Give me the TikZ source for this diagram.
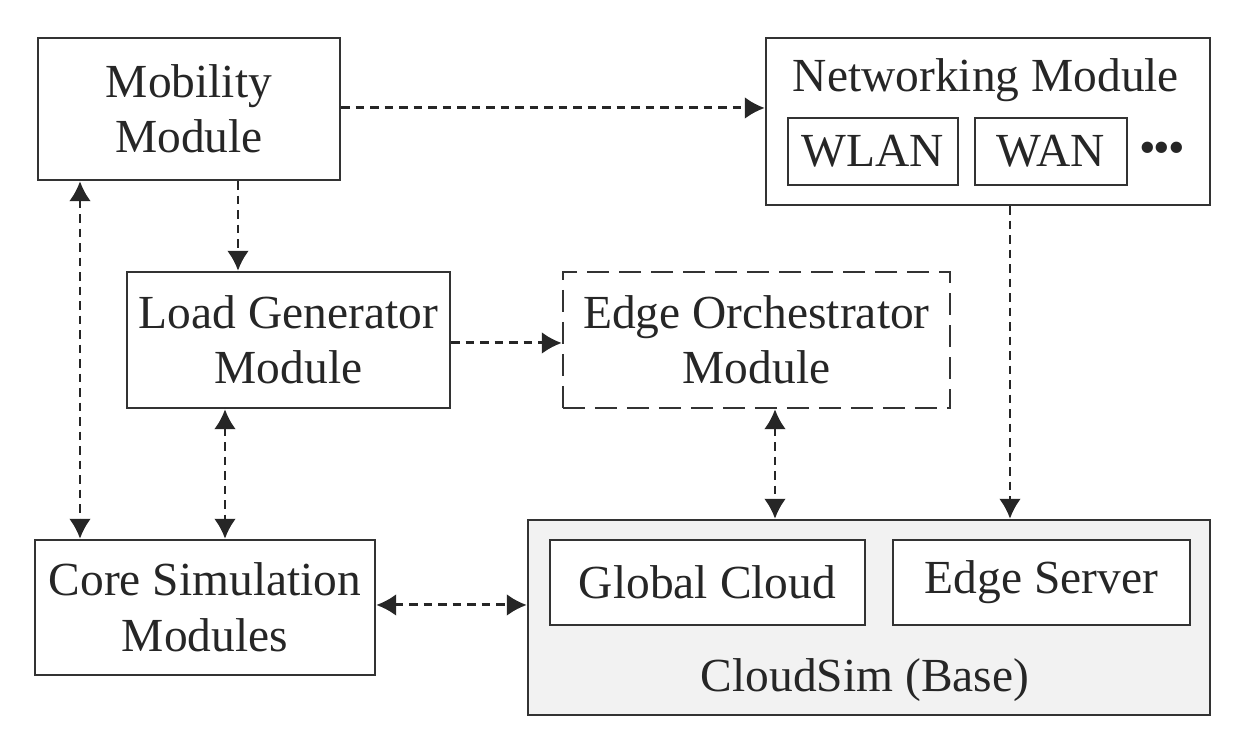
\documentclass[tikz,border=0pt]{standalone}
\usepackage{fontspec}
\setmainfont{Liberation Serif}
\usetikzlibrary{arrows.meta,calc}

\begin{document}
\begin{tikzpicture}[
    font=\fontsize{13.5}{15.8}\selectfont, text=black!85,
    box/.style={draw=black!80,line width=0.7pt,align=center,inner sep=0pt},
    flow/.style={line width=0.85pt,black!85,dash pattern=on 0.85mm off 0.6mm,-{Latex[length=2mm,width=2.2mm]}},
    both/.style={flow,{Latex[length=2mm,width=2.2mm]}-{Latex[length=2mm,width=2.2mm]}}]
  \useasboundingbox (0,0) rectangle (12.6,-7.4);

  \node[box,minimum width=3.02cm,minimum height=1.42cm] (mob) at (1.89,-1.09) {Mobility\\Module};
  \node[box,minimum width=4.44cm,minimum height=1.67cm] (net) at (9.88,-1.215) {};
  \node (nettitle) at (9.86,-0.80) {Networking Module};
  \node[box,minimum width=1.70cm,minimum height=0.67cm] (wlan) at (8.73,-1.515) {WLAN};
  \node[box,minimum width=1.52cm,minimum height=0.67cm] (wan) at (10.51,-1.515) {WAN};
  \node (dots) at (11.62,-1.53) {\textbullet\kern-0.6pt\textbullet\kern-0.6pt\textbullet};

  \node[box,minimum width=3.23cm,minimum height=1.36cm] (load) at (2.885,-3.40) {Load Generator\\Module};
  \node[box,dash pattern=on 2.2mm off 1.0mm,minimum width=3.87cm,minimum height=1.36cm] (orch) at (7.565,-3.40) {Edge Orchestrator\\Module};

  \node[box,minimum width=3.40cm,minimum height=1.35cm] (core) at (2.05,-6.075) {Core Simulation\\Modules};
  \node[box,fill=black!5,minimum width=6.82cm,minimum height=1.95cm] (cloud) at (8.69,-6.175) {};
  \node[box,fill=white,minimum width=3.15cm,minimum height=0.85cm] (glob) at (7.075,-5.825) {Global Cloud};
  \node[box,fill=white,minimum width=2.97cm,minimum height=0.85cm] (edge) at (10.415,-5.825) {Edge Server};
  \node (base) at (8.65,-6.80) {CloudSim (Base)};

  % connectors
  \draw[flow] ([yshift=0.1mm]mob.east) -- ([yshift=0.1mm]mob.east -| net.west);
  \draw[flow] ([xshift=4.9mm]mob.south) -- ([xshift=4.9mm]mob.south |- load.north);
  \draw[both] ([xshift=-10.9mm]mob.south) -- ([xshift=-10.9mm]mob.south |- core.north);
  \draw[both] ([xshift=-6.35mm]load.south) -- ([xshift=-6.35mm]load.south |- core.north);
  \draw[flow] ([yshift=-0.3mm]load.east) -- ([yshift=-0.3mm]load.east -| orch.west);
  \draw[both] ([xshift=1.85mm]orch.south) -- ([xshift=1.85mm]orch.south |- cloud.north);
  \draw[flow] ([xshift=2.2mm]net.south) -- ([xshift=2.2mm]net.south |- cloud.north);
  \draw[both] ([yshift=0.25mm]core.east) -- ([yshift=0.25mm]core.east -| cloud.west);
\end{tikzpicture}
\end{document}
